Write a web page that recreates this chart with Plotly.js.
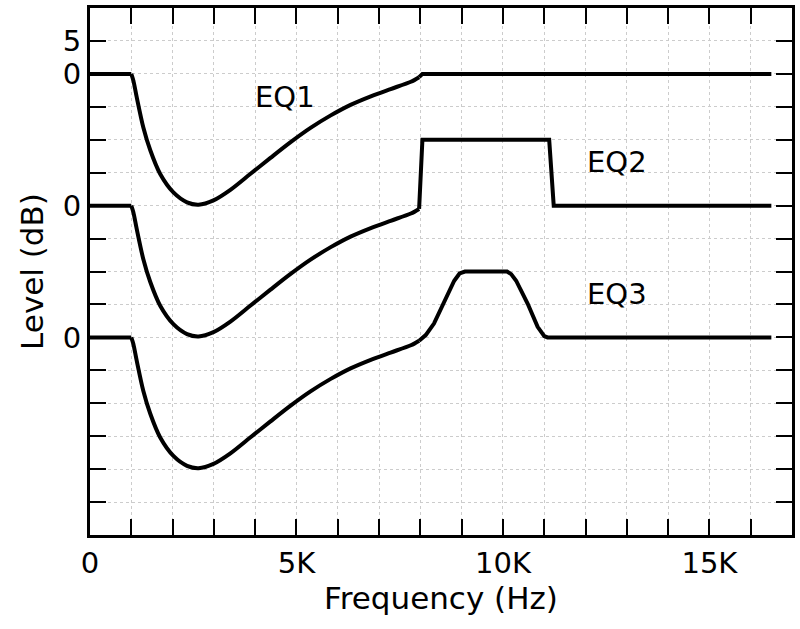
<!DOCTYPE html>
<html>
<head>
<meta charset="utf-8">
<script src="https://cdn.plot.ly/plotly-3.0.1.min.js"></script>
<style>
  html, body { margin: 0; padding: 0; background: #fff; }
  #plotArea { width: 800px; height: 629px; }
</style>
</head>
<body>
<div id="plotArea"></div>
<script>
// EQ curves (x in Hz, y in plotted dB units)
var eq1X = [0, 1000, 1050, 1130, 1290, 1460, 1700, 2020, 2350, 2630, 2990, 3400, 3880, 4370, 4850, 5340, 5830, 6310, 6800, 7280, 7770, 7970, 8050, 16500];
var eq1Y = [0, 0, -1, -3.5, -8.1, -11.6, -15.2, -18, -19.5, -19.85, -19.2, -17.6, -15.2, -12.75, -10.4, -8.2, -6.3, -4.7, -3.4, -2.3, -1.2, -0.5, 0, 0];

var eq2X = [0, 1000, 1050, 1130, 1290, 1460, 1700, 2020, 2350, 2630, 2990, 3400, 3880, 4370, 4850, 5340, 5830, 6310, 6800, 7280, 7770, 7970, 8050, 11120, 11230, 16500];
var eq2Y = [-20, -20, -21, -23.5, -28.1, -31.6, -35.2, -38, -39.5, -39.85, -39.2, -37.6, -35.2, -32.75, -30.4, -28.2, -26.3, -24.7, -23.4, -22.3, -21.2, -20.5, -10, -10, -20, -20];

var eq3X = [0, 1000, 1050, 1130, 1290, 1460, 1700, 2020, 2350, 2630, 2990, 3400, 3880, 4370, 4850, 5340, 5830, 6310, 6800, 7280, 7770, 7970, 8130, 8330, 8580, 8820, 8950, 9080, 10100, 10200, 10320, 10600, 10840, 11000, 11080, 16500];
var eq3Y = [-40, -40, -41, -43.5, -48.1, -51.6, -55.2, -58, -59.5, -59.85, -59.2, -57.6, -55.2, -52.75, -50.4, -48.2, -46.3, -44.7, -43.4, -42.3, -41.2, -40.5, -39.65, -37.9, -34.4, -31.4, -30.3, -30, -30, -30.4, -31.4, -34.9, -38.4, -39.8, -40, -40];

var eqNames = ["EQ1", "EQ2", "EQ3"];
var labelX = [4730, 12770, 12770];
var labelY = [-3.5, -13.4, -33.4];

// tick labels
var xTickVals = [0, 1000, 2000, 3000, 4000, 5000, 6000, 7000, 8000, 9000, 10000, 11000, 12000, 13000, 14000, 15000, 16000];
var xTickText = ["0", "", "", "", "", "5K", "", "", "", "", "10K", "", "", "", "", "15K", ""];
var yTickVals = [-65, -60, -55, -50, -45, -40, -35, -30, -25, -20, -15, -10, -5, 0, 5];
var yTickText = ["", "", "", "", "", "0", "", "", "", "0", "", "", "", "0", "5"];

var font = "DejaVu Sans, sans-serif";

// the roll-off part (1K .. ~8K) is drawn smooth, the flat and stepped parts straight
function eqTraces(xs, ys, name) {
  var cut = 21;
  var parts = [[0, 1, "linear"], [1, cut, "spline"], [cut, xs.length - 1, "linear"]];
  return parts.map(function(p){
    return {
      type: "scatter", mode: "lines", name: name,
      x: xs.slice(p[0], p[1] + 1), y: ys.slice(p[0], p[1] + 1),
      line: {color: "black", width: 4, shape: p[2], smoothing: 0.8}
    };
  });
}

var data = [].concat(
  eqTraces(eq1X, eq1Y, eqNames[0]),
  eqTraces(eq2X, eq2Y, eqNames[1]),
  eqTraces(eq3X, eq3Y, eqNames[2])
);

var notes = eqNames.map(function(n, i){
  return {x: labelX[i], y: labelY[i], text: n, showarrow: false,
          font: {family: font, size: 29, color: "black"}};
});

var axisBase = {
  showline: true, linecolor: "black", linewidth: 3, mirror: "ticks",
  ticks: "inside", ticklen: 16, tickwidth: 2, tickcolor: "black",
  tickmode: "array",
  showgrid: true, gridcolor: "#cccccc", gridwidth: 1, griddash: "dot",
  zeroline: false,
  tickfont: {family: font, size: 29, color: "black"}
};

var layout = {
  width: 800, height: 629,
  margin: {l: 90, r: 8, t: 8, b: 94},
  paper_bgcolor: "white", plot_bgcolor: "white",
  showlegend: false,
  xaxis: Object.assign({}, axisBase, {
    range: [0, 17000], tickvals: xTickVals, ticktext: xTickText,
    title: {text: "Frequency (Hz)", font: {family: font, size: 31, color: "black"}, standoff: 4}
  }),
  yaxis: Object.assign({}, axisBase, {
    range: [-70, 10], tickvals: yTickVals, ticktext: yTickText,
    title: {text: "Level (dB)", font: {family: font, size: 31, color: "black"}, standoff: 10}
  }),
  annotations: notes
};

Plotly.newPlot("plotArea", data, layout, {staticPlot: true});
</script>
</body>
</html>
